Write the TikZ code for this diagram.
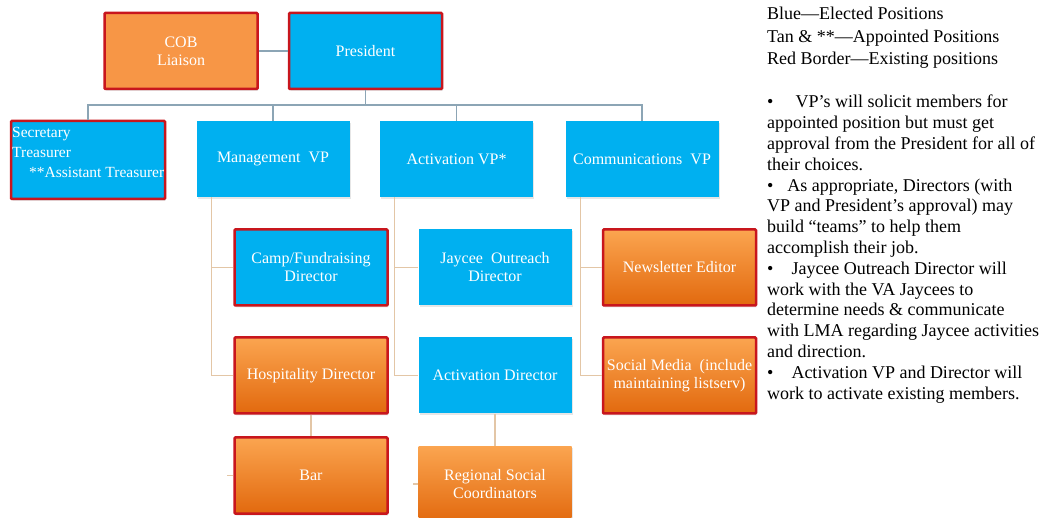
\documentclass[tikz,border=0pt]{standalone}
\usepackage{fontspec}
\setmainfont{Liberation Serif}
\usetikzlibrary{shadows}
\definecolor{electedblue}{HTML}{00B0F0}
\definecolor{tanfill}{HTML}{F79646}
\definecolor{orangetop}{HTML}{FBA550}
\definecolor{orangebot}{HTML}{E2690E}
\definecolor{existingred}{HTML}{C8161D}
\definecolor{busgrey}{HTML}{8CA5B5}
\definecolor{tanline}{HTML}{E3C6A6}

\begin{document}
\begin{tikzpicture}[x=1pt,y=-1pt]
\tikzstyle{box}=[minimum width=153pt, minimum height=76pt, inner sep=2pt, text=white, align=center,
  font=\fontsize{16}{18}\selectfont, drop shadow={opacity=0.2,shadow xshift=1pt,shadow yshift=-2pt}]
\tikzstyle{elected}=[box, fill=electedblue]
\tikzstyle{appointed}=[box, top color=orangetop, bottom color=orangebot]
\tikzstyle{existing}=[draw=existingred, line width=2.5pt, rounded corners=1pt]
\tikzstyle{upper}=[busgrey, line width=1.2pt]
\tikzstyle{lower}=[tanline, line width=1.2pt]
\tikzstyle{notes}=[anchor=north west, align=left, inner sep=0pt, text=black]

\useasboundingbox (0,0) rectangle (1047,518);

\node (cob) at (181,51) [box, fill=tanfill, existing] {COB\\Liaison};
\node (pres) at (365.5,51) [elected, existing] {President};

\node (sec) at (88,160) [elected, existing, minimum width=154pt, minimum height=78pt] {};
\node (sectext) [notes, text=white, font=\fontsize{15.5}{20}\selectfont] at (12,127)
  {Secretary\\Treasurer\\\hspace{17pt}**Assistant Treasurer};
\node (mgmt) at (273,159) [elected] {Management\ \ VP};
\node (actvp) at (456.5,159) [elected] {Activation VP*};
\node (comm) at (642,159) [elected] {Communications\ \ VP};

\node (camp) at (311,267.5) [elected, existing] {Camp/Fundraising\\Director};
\node (jaycee) at (495,267.5) [elected] {Jaycee\ \ Outreach\\Director};
\node (news) at (679.5,267.5) [appointed, existing] {Newsletter Editor};

\node (hosp) at (311,375.5) [appointed, existing] {Hospitality Director};
\node (actdir) at (495,375.5) [elected] {Activation Director};
\node (social) at (679.5,375.5) [appointed, existing] {Social Media\ \ (include\\maintaining listserv)};

\node (bar) at (311,475.5) [appointed, existing] {Bar};
\node (regional) at (495,484) [appointed] {Regional Social\\Coordinators};

% connectors
\draw [upper] (cob) -- (pres);
\coordinate (bus) at (365.5,105);
\draw [upper] (pres) -- (bus);
\foreach \n in {sec,mgmt,actvp,comm}
  \draw [upper] (bus) -| (\n.north);

\foreach \n/\a/\b in {mgmt/camp/hosp, actvp/jaycee/actdir, comm/news/social} {
  \draw [lower] ([xshift=15pt]\n.south west) |- (\a.west);
  \draw [lower] ([xshift=15pt]\n.south west) |- (\b.west);
}
\draw [lower] (hosp) -- (bar);
\draw [lower] (actdir) -- (regional);
\draw [lower] (bar.west) -- ++(-6,0);
\draw [lower] (regional.west) -- ++(-5,0);

\node (legend) [notes, font=\fontsize{18}{22.5}\selectfont] at (767,7)
  {Blue—Elected Positions\\Tan \& **—Appointed Positions\\Red Border—Existing positions};

\node (remarks) [notes, font=\fontsize{18}{20.8}\selectfont] at (767,95)
  {\textbullet\hspace{22pt}VP’s will solicit members for\\
   appointed position but must get\\
   approval from the President for all of\\
   their choices.\\
   \textbullet\hspace{14pt}As appropriate, Directors (with\\
   VP and President’s approval) may\\
   build “teams” to help them\\
   accomplish their job.\\
   \textbullet\hspace{18pt}Jaycee Outreach Director will\\
   work with the VA Jaycees to\\
   determine needs \& communicate\\
   with LMA regarding Jaycee activities\\
   and direction.\\
   \textbullet\hspace{18pt}Activation VP and Director will\\
   work to activate existing members.};
\end{tikzpicture}
\end{document}
